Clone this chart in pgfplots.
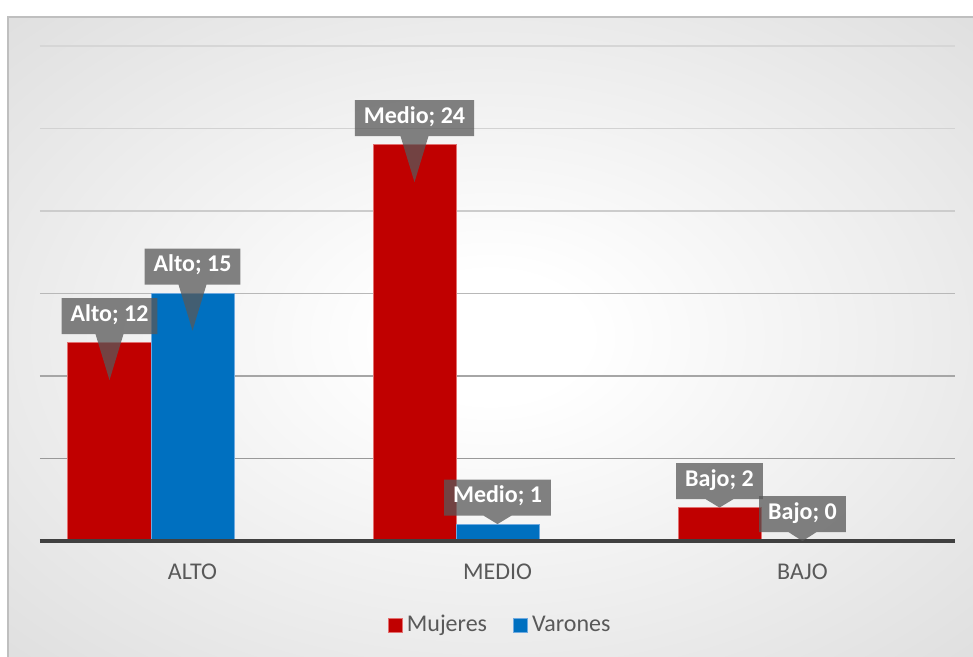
\documentclass[border=0pt]{standalone}
\usepackage{fontspec}
\setmainfont{Carlito}
\usepackage{pgfplots}
\usepackage{pgfplotstable}
\pgfplotsset{compat=1.18}
\usetikzlibrary{shapes.callouts}

\definecolor{rojo}{HTML}{C00000}
\definecolor{rojoborde}{HTML}{E37070}
\definecolor{azul}{HTML}{0070C0}
\definecolor{azulborde}{HTML}{6FAAE0}
\definecolor{texto}{HTML}{595959}
\definecolor{etiq}{HTML}{595959}
\definecolor{fondo}{HTML}{BBBBBB}
\definecolor{eje}{HTML}{404040}

\pgfdeclareradialshading{fondochart}{\pgfpointorigin}{color(0bp)=(white); color(5bp)=(white); color(70.71bp)=(fondo)}

\tikzset{
  etiqueta/.style={
    rectangle callout, fill=etiq, fill opacity=0.75, text opacity=1,
    text=white, font=\fontsize{12}{14}\selectfont\bfseries,
    anchor=south, yshift=4.25pt,
    inner xsep=4.5pt, inner ysep=3.8pt, text height=7.8pt, text depth=2.6pt,
    callout relative pointer={(0pt,-\ptr pt)}, callout pointer width=14pt},
}

% una tabla por serie: x, valor, texto de la etiqueta, largo del puntero (pt, desde el borde inferior)
\pgfplotstableread[col sep=comma]{
x,y,lab,ptr
0,12,Alto; 12,23
1,24,Medio; 24,23
2,2,Bajo; 2,4.25
}\mujeres

\pgfplotstableread[col sep=comma]{
x,y,lab,ptr
0,15,Alto; 15,23
1,1,Medio; 1,4.25
2,0,Bajo; 0,4.5
}\varones

\begin{document}
\begin{tikzpicture}[font=\fontsize{12}{14}\selectfont]
\useasboundingbox (-20pt,-58pt) rectangle (466.5pt,270.5pt);
\shade[shading=fondochart] (-16pt,-58pt) rectangle (466.5pt,262pt);
\draw[color=black!25, line width=0.6pt] (-16pt,-58pt) -- (-16pt,262pt) -- (466.5pt,262pt);
\begin{axis}[
  at={(0pt,0pt)}, anchor=south west,
  scale only axis, width=457.5pt, height=247.5pt,
  clip=false,
  xmin=-0.5, xmax=2.5, ymin=0, ymax=30,
  axis line style={draw=none},
  major tick length=0pt,
  xtick={0,1,2}, xticklabels={ALTO,MEDIO,BAJO},
  ytick=\empty,
  xticklabel style={anchor=base, yshift=-19.5pt, text=texto},
  ybar, bar width=41.5pt,
  legend style={draw=none, fill=none, at={(0.504,-0.17)}, anchor=center,
    legend columns=-1, text=texto,
    /tikz/every even column/.append style={column sep=11pt}},
  legend image code/.code={\draw[#1, line width=0.5pt] (0pt,-3.5pt) rectangle (7pt,3.5pt);},
]
% lineas de division
\draw[color={rgb,255:red,214;green,214;blue,214}, line width=0.75pt] (axis cs:-0.5,30) -- (axis cs:2.5,30);
\draw[color={rgb,255:red,210;green,210;blue,210}, line width=0.75pt] (axis cs:-0.5,25) -- (axis cs:2.5,25);
\draw[color={rgb,255:red,204;green,204;blue,204}, line width=0.75pt] (axis cs:-0.5,20) -- (axis cs:2.5,20);
\draw[color={rgb,255:red,184;green,184;blue,184}, line width=0.75pt] (axis cs:-0.5,15) -- (axis cs:2.5,15);
\draw[color={rgb,255:red,166;green,166;blue,166}, line width=0.75pt] (axis cs:-0.5,10) -- (axis cs:2.5,10);
\draw[color={rgb,255:red,153;green,153;blue,153}, line width=0.75pt] (axis cs:-0.5,5) -- (axis cs:2.5,5);

\addplot[fill=rojo, draw=rojoborde, line width=0.5pt, bar shift=-41.5pt] table[x=x, y=y] {\mujeres};
\addlegendentry{Mujeres}
\addplot[fill=azul, draw=azulborde, line width=0.5pt, bar shift=0pt] table[x=x, y=y] {\varones};
\addlegendentry{Varones}

% etiquetas de datos, encima de ambas series
\addplot[draw=none, fill=none, bar shift=-41.5pt, forget plot,
  visualization depends on={\thisrow{ptr} \as \ptr},
  point meta=explicit symbolic, nodes near coords,
  every node near coord/.append style={etiqueta}]
  table[x=x, y=y, meta=lab] {\mujeres};
\addplot[draw=none, fill=none, bar shift=0pt, forget plot,
  visualization depends on={\thisrow{ptr} \as \ptr},
  point meta=explicit symbolic, nodes near coords,
  every node near coord/.append style={etiqueta}]
  table[x=x, y=y, meta=lab] {\varones};

\draw[color=eje, line width=1.6pt] (axis cs:-0.5,0) -- (axis cs:2.5,0);
\end{axis}
\end{tikzpicture}
\end{document}
